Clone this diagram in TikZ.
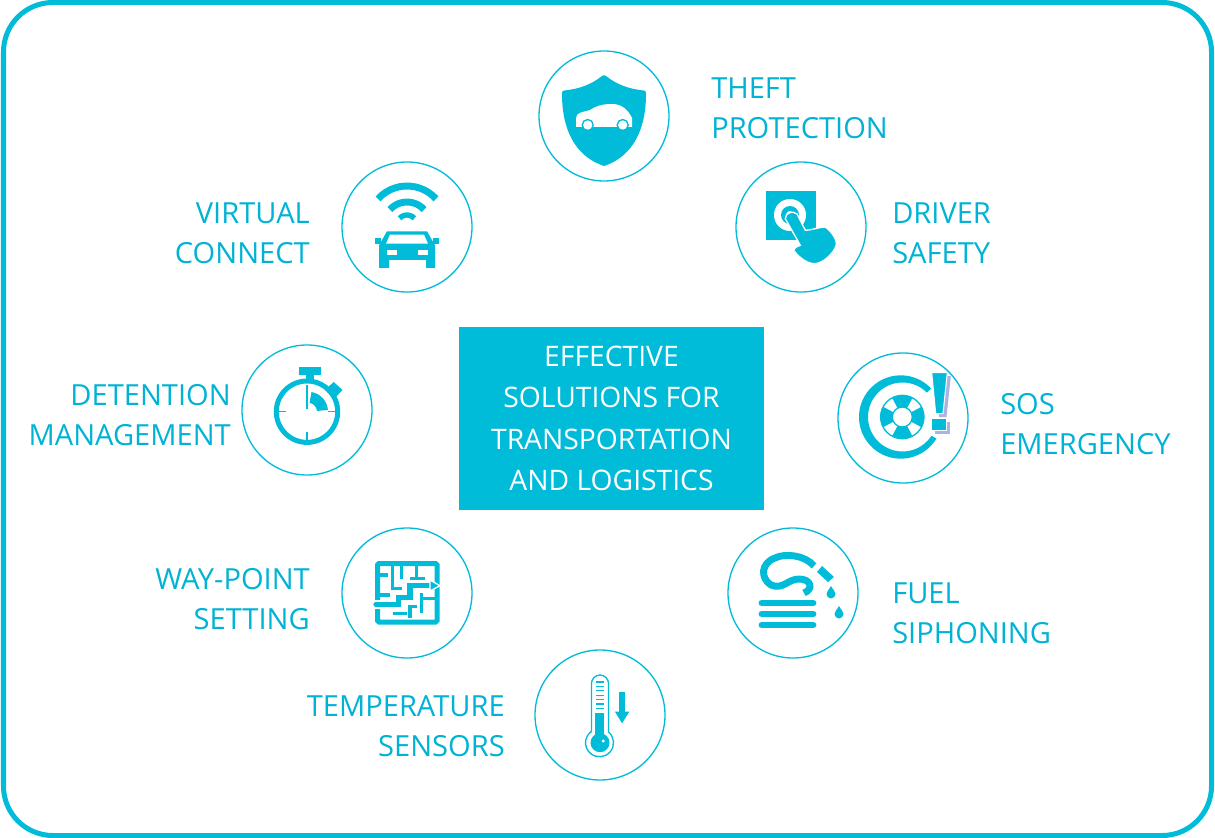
\documentclass[tikz,border=0pt]{standalone}
\usepackage{fontspec}
\setmainfont{Open Sans}
\definecolor{FrameTeal}{RGB}{0,188,217}
\definecolor{IconTeal}{RGB}{0,188,217}
\definecolor{TextTeal}{RGB}{0,178,212}
\definecolor{ShadowLilac}{RGB}{170,180,228}
\usetikzlibrary{positioning,calc}
\tikzset{
  % Outer frame
  outerframe/.style={draw=FrameTeal, line width=3.75pt, rounded corners=37pt},
  % Round badge behind an icon
  badge/.style={circle, draw=FrameTeal, line width=1pt, minimum size=97.5pt, inner sep=0pt},
  % Centre box
  centrebox/.style={
    fill=IconTeal,
    minimum width=228.75pt,
    minimum height=137.25pt,
    inner sep=0pt,
    align=center,
    text=white,
    font=\fontsize{21.2}{31.2}\selectfont
  },
  % Labels beside the badges
  rlabel/.style={anchor=west, align=left, inner sep=0pt, text=TextTeal, font=\fontsize{21.8}{30}\selectfont},
  llabel/.style={anchor=east, align=right, inner sep=0pt, text=TextTeal, font=\fontsize{21.8}{30}\selectfont},
  % Icon parts
  iconfill/.style={fill=IconTeal, draw=none},
  iconcut/.style={fill=white, draw=none},
  hairline/.style={draw=IconTeal, line width=1pt},
  hosebar/.style={draw=IconTeal, line width=5.2pt, line cap=round},
  mazeline/.style={draw=IconTeal, line width=2.3pt}
}
\begin{document}
\begin{tikzpicture}[x=0.75pt, y=-0.75pt]
  \useasboundingbox (0,0) rectangle (1215,838);
  \node[outerframe, minimum width=906pt, minimum height=624.75pt, inner sep=0pt] (outer) at (607.5,419) {};
  % Centre box
  \node[centrebox] (centre) at (611.5,418.5) {EFFECTIVE\\SOLUTIONS FOR\\TRANSPORTATION\\AND LOGISTICS};
  % Badges
  \foreach \name/\x/\y in {theft/604/116, driver/801/227, virtual/407/227, detention/307/410,
                           sos/903/418, fuel/793/593, way/407/593, temp/600/715} {
    \node[badge] (\name) at (\x,\y) {};
  }
  % Labels
  \node[rlabel] (theftlabel) at (711,108) {THEFT\\PROTECTION};
  \node[rlabel] (driverlabel) at (892,233) {DRIVER\\SAFETY};
  \node[rlabel] (soslabel) at (1000,424) {SOS\\EMERGENCY};
  \node[rlabel] (fuellabel) at (892,613) {FUEL\\SIPHONING};
  \node[llabel] (virtuallabel) at (310,233) {VIRTUAL\\CONNECT};
  \node[llabel] (detentionlabel) at (231,415) {DETENTION\\MANAGEMENT};
  \node[llabel] (waylabel) at (310,599) {WAY-POINT\\SETTING};
  \node[llabel] (templabel) at (505,726) {TEMPERATURE\\SENSORS};
  % Theft icon
  \begin{scope}[shift={(theft)}]
    \fill[iconfill] (-2,-40) .. controls (-12,-32) and (-24,-27) .. (-40,-25.5)
      .. controls (-42,-25) and (-42,-24) .. (-42,-22)
      .. controls (-42,12) and (-30,40) .. (0,50) .. controls (30,40) and (42,12) .. (42,-22)
      .. controls (42,-24) and (42,-25) .. (40,-25.5)
      .. controls (24,-27) and (12,-32) .. (2,-40) .. controls (1,-41) and (-1,-41) .. (-2,-40) -- cycle;
    \fill[iconcut] (-28,11) -- (-28,2) .. controls (-28,-4) and (-20,-4) .. (-14,-6)
      .. controls (-8,-10) and (-2,-12) .. (8,-12) .. controls (18,-12) and (24,-6) .. (28,2)
      -- (28,11) -- cycle;
    \foreach \wx in {-16.3,18.7} {
      \draw[hairline, fill=white] (\wx,9) circle (5.5);
    }
  \end{scope}
  % Driver icon
  \begin{scope}[shift={(driver)}]
    \fill[iconfill] (-35,-36) rectangle (15,13);
    \fill[iconcut] (-11,-12) circle (16);
    \fill[iconfill] (-11,-12) circle (9);
    \fill[iconcut] (-11,-12) circle (4);
    \path[iconfill, draw=white, line width=1pt] (-15.7,-8.3) .. controls (-16,-14) and (-8,-17) .. (-4,-13) -- (4.3,3.3)
      .. controls (12,3) and (18,0) .. (24.3,0) .. controls (30,4) and (36,12) .. (35.3,18)
      .. controls (33,26) and (22,37) .. (12.7,36.7) .. controls (4,36) and (-4,28) .. (-7.3,23.3)
      .. controls (-6,20) and (-3,19) .. (-0.7,18.3) -- cycle;
  \end{scope}
  % Virtual icon
  \begin{scope}[shift={(virtual)}]
    \foreach \r/\w in {39/5.2, 23/5.2, 10/4} {
      \draw[draw=IconTeal, line width=\w pt] ($(0,-2)+(222:\r)$) arc[start angle=222, end angle=318, radius=\r];
    }
    \fill[iconfill] (-20,4.3) -- (20,4.3) -- (28,18.3) -- (28,41) -- (19,41) -- (19,33) -- (-18,33) -- (-18,41) -- (-28,41) -- (-28,18.3) -- cycle;
    \fill[iconcut] (-17,7.6) -- (17,7.6) -- (21,16.7) -- (-21,16.7) -- cycle;
    \fill[iconfill] (-32,11) rectangle (-26,17);
    \fill[iconfill] (26,11) rectangle (32,17);
    \fill[iconcut] (-20,23.3) rectangle (-10,27.7);
    \fill[iconcut] (11,23.3) rectangle (21,27.7);
  \end{scope}
  % Detention icon
  \begin{scope}[shift={(detention)}]
    \draw[draw=IconTeal, line width=3.75pt] (0,1.7) circle (30.7);
    \fill[iconfill] (-8.3,-42.7) rectangle (14.3,-35);
    \fill[iconfill] (-1,-35) rectangle (6.7,-28);
    \fill[iconfill] (26.7,-28) -- (35.5,-20) -- (27,-11) -- (18,-20) -- cycle;
    \draw[hairline] (0,-25) -- (0,-1);
    \draw[hairline] (0,22) -- (0,30);
    \draw[hairline] (-28,1.7) -- (-21,1.7);
    \draw[hairline] (21,1.7) -- (28,1.7);
    \fill[iconfill] (1,1.7) ++(-80:9) arc[start angle=-80, end angle=-5, radius=9]
      -- ++(-5:11) arc[start angle=-5, end angle=-80, radius=20] -- cycle;
  \end{scope}
  % SOS icon
  \begin{scope}[shift={(sos)}]
    \fill[iconfill] ($(-2.3,-1)+(31:41.7)$) arc[start angle=31, end angle=317, radius=41.7]
      -- ($(-0.5,-1)+(315:34.5)$) arc[start angle=315, end angle=33, radius=34.5] -- cycle;
    \draw[hairline] (-0.7,-1) circle (21.7);
    \draw[hairline] (-0.7,-1) circle (10);
    \foreach \a in {0,90,180,270} {
      \fill[iconfill] ($(-0.7,-1)+(\a-28:10)$) arc[start angle=\a-28, end angle=\a+28, radius=10]
        -- ($(-0.7,-1)+(\a+28:21.7)$) arc[start angle=\a+28, end angle=\a-28, radius=21.7] -- cycle;
    }
    \fill[ShadowLilac] (32.2,-41.8) -- (47.8,-41.8) -- (43.5,-0.8) -- (36.2,-0.8) -- cycle;
    \fill[ShadowLilac] (32.2,4.2) rectangle (46.8,15.8);
    \path[iconfill, draw=white, line width=0.8pt] (28.7,-45.3) -- (44.3,-45.3) -- (40,-4.3) -- (32.7,-4.3) -- cycle;
    \path[iconfill, draw=white, line width=0.8pt] (28.7,0.7) rectangle (43.3,12.3);
  \end{scope}
  % Fuel icon
  \begin{scope}[shift={(fuel)}]
    \foreach \by in {10,21,32} {
      \draw[hosebar] (-31,\by) -- (20,\by);
    }
    \draw[hosebar, line cap=butt] (21,-27) .. controls (12,-38) and (-8,-40) .. (-18,-35)
      .. controls (-32,-30) and (-33,-15) .. (-22,-8) .. controls (-10,-3) and (-5,-14) .. (6,-14)
      .. controls (18,-14) and (21,-4) .. (11,0);
    \fill[iconfill] (29,-27) -- (41,-16) -- (35,-11) -- (24,-21) -- cycle;
    \fill[iconfill] (38,-7) .. controls (40,-3) and (42.5,-2) .. (42.5,1) arc[start angle=0, end angle=180, radius=4.5]
      .. controls (33.5,-2) and (36,-3) .. (38,-7) -- cycle;
    \fill[iconfill] (46,13) .. controls (48,17) and (50.5,18) .. (50.5,21) arc[start angle=0, end angle=180, radius=4.5]
      .. controls (41.5,18) and (44,17) .. (46,13) -- cycle;
  \end{scope}
  % Way-point icon
  \begin{scope}[shift={(way)}]
    \draw[draw=IconTeal, line width=3.75pt, rounded corners=1pt] (-29.5,-29.5) rectangle (30,29);
    \draw[mazeline] (-5.3,-27) -- (-5.3,-14);
    \draw[mazeline] (3,-14.7) -- (18,-14.7);
    \draw[mazeline] (9.7,-27) -- (9.7,-14.7);
    \draw[mazeline] (-27,-18) -- (-18.7,-18);
    \draw[mazeline] (-14.3,-27) -- (-14.3,-4.7) -- (-5.3,-4.7);
    \draw[mazeline] (-27,2) -- (-17,2);
    \draw[mazeline] (14.7,0.3) -- (14.7,20);
    \draw[mazeline] (14.7,5.3) -- (28,5.3);
    \draw[mazeline] (10,13.7) -- (3,13.7) -- (3,25);
    \draw[mazeline] (-13.7,20.3) -- (-0.3,20.3);
    \draw[draw=white, line width=6.5pt] (-33,11.3) -- (-8.7,11.3);
    \draw[draw=IconTeal, line width=4pt, line cap=round] (-31,11.3) -- (-8.7,11.3) -- (-8.7,4.7) -- (3,4.7) -- (3,-7.3) -- (24.7,-7.3);
    \path[iconfill, draw=white, line width=1pt] (23,-13) -- (33,-7.3) -- (23,-2) -- cycle;
  \end{scope}
  % Temperature icon
  \begin{scope}[shift={(temp)}]
    \draw[hairline] (-8.5,17) -- (-8.5,-31.5) arc[start angle=180, end angle=360, radius=8.5] -- (8.5,17)
      arc[start angle=-50, end angle=230, radius=14] -- cycle;
    \fill[iconfill] (-5,-2.3) rectangle (4.3,27.7);
    \fill[iconfill] (0,27.7) circle (9.5);
    \fill[iconcut] (3.3,26) circle (1.6);
    \foreach \ty in {-33,-28.6,...,-6} {
      \draw[draw=IconTeal, line width=0.8pt] (-4,\ty) -- (4.3,\ty);
    }
    \fill[iconfill] (19.3,-23) rectangle (25,-3.3);
    \fill[iconfill] (15,-3.3) -- (29.3,-3.3) -- (22,8.3) -- cycle;
  \end{scope}
\end{tikzpicture}
\end{document}
